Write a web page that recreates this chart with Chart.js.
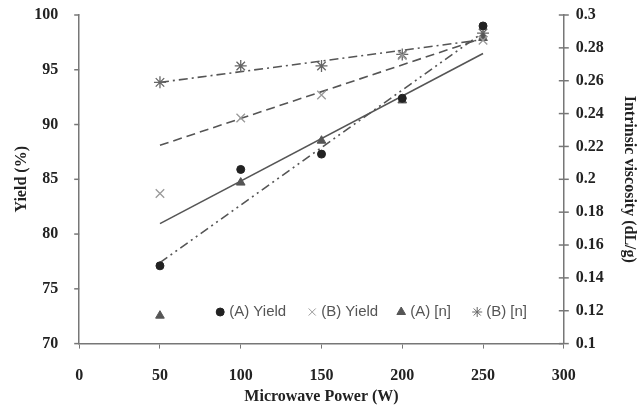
<!DOCTYPE html>
<html>
<head>
<meta charset="utf-8">
<script src="https://cdn.jsdelivr.net/npm/chart.js@4"></script>
<style>
  html, body { margin: 0; padding: 0; background: #fff; }
  #wrap { width: 638px; height: 411px; }
</style>
</head>
<body>
<div id="wrap"><canvas id="mwChart"></canvas></div>
<script>
const power = [50, 100, 150, 200, 250];
const yieldA = [77.1, 85.9, 87.3, 92.4, 99.0];
const yieldB = [83.7, 90.6, 92.7, 96.3, 97.7];
const viscA = [0.117, 0.198, 0.2235, 0.248, 0.286];
const viscB = [0.259, 0.269, 0.269, 0.276, 0.289];

// trend lines, end points
const trendX = [50, 250];
const trendYieldA = [77.4, 98.4];
const trendYieldB = [88.1, 97.9];
const trendViscA = [0.173, 0.2766];
const trendViscB = [0.259, 0.285];

const legendNames = ["(A) Yield", "(B) Yield", "(A) [n]", "(B) [n]"];

const pts = (xs, ys) => xs.map((x, i) => ({ x: x, y: ys[i] }));
const serif = "'Liberation Serif', 'Times New Roman', serif";
const tickFont = { family: serif, size: 16, weight: 'bold' };

function trend(data, axis, dash) {
    return {
        data: data, yAxisID: axis, showLine: true,
        borderColor: '#555', borderWidth: 1.6, borderDash: dash,
        pointRadius: 0, fill: false, order: 2
    };
}

const marks = [
    { data: pts(power, yieldA), yAxisID: 'y', pointStyle: 'circle', pointRadius: 4,
      backgroundColor: '#222', borderColor: '#222' },
    { data: pts(power, yieldB), yAxisID: 'y', pointStyle: 'crossRot', pointRadius: 6,
      backgroundColor: '#999', borderColor: '#999', borderWidth: 1.3 },
    { data: pts(power, viscA), yAxisID: 'y1', pointStyle: 'triangle', pointRadius: 5,
      backgroundColor: '#555', borderColor: '#555' },
    { data: pts(power, viscB), yAxisID: 'y1', pointStyle: 'star', pointRadius: 6,
      backgroundColor: '#666', borderColor: '#666', borderWidth: 1.3 }
];

const legendPlugin = {
    id: 'insideLegend',
    afterDraw(chart) {
        const ctx = chart.ctx;
        const a = chart.chartArea;
        const y = a.top + 297;
        const offs = [141, 233, 322, 398];
        ctx.save();
        ctx.font = "15px 'Liberation Sans', Arial, sans-serif";
        ctx.textBaseline = 'middle';
        marks.forEach((m, i) => {
            const x = a.left + offs[i];
            ctx.fillStyle = m.backgroundColor;
            ctx.strokeStyle = m.borderColor;
            Chart.helpers.drawPoint(ctx, {
                pointStyle: m.pointStyle, radius: i === 0 ? 4 : 5, rotation: 0,
                borderWidth: m.borderWidth || 1
            }, x, y);
            ctx.fillStyle = '#555';
            ctx.fillText(legendNames[i], x + 9, y);
        });
        ctx.restore();
    }
};

// tick marks of the two value axes (right one crosses the axis line)
const yTickMarks = {
    id: 'yTickMarks',
    afterDraw(chart) {
        const ctx = chart.ctx;
        ctx.save();
        ctx.strokeStyle = '#777';
        ctx.lineWidth = 1.5;
        const l = chart.scales.y;
        l.ticks.forEach(t => {
            const py = l.getPixelForValue(t.value);
            ctx.beginPath();
            ctx.moveTo(l.right - 5, py);
            ctx.lineTo(l.right, py);
            ctx.stroke();
        });
        const r = chart.scales.y1;
        r.ticks.forEach(t => {
            const py = r.getPixelForValue(t.value);
            ctx.beginPath();
            ctx.moveTo(r.left - 5, py);
            ctx.lineTo(r.left + 5, py);
            ctx.stroke();
        });
        ctx.restore();
    }
};

new Chart(document.getElementById("mwChart"), {
    type: 'scatter',
    data: {
        datasets: [
            ...marks.map(m => Object.assign({ order: 1 }, m)),
            trend(pts(trendX, trendYieldA), 'y', [9, 4, 2, 4, 2, 4]),
            trend(pts(trendX, trendYieldB), 'y', [9, 5]),
            trend(pts(trendX, trendViscA), 'y1', []),
            trend(pts(trendX, trendViscB), 'y1', [9, 4, 2, 4])
        ]
    },
    options: {
        responsive: true,
        maintainAspectRatio: false,
        animation: false,
        layout: { padding: { left: 8, right: 0, top: 15, bottom: 1 } },
        plugins: {
            legend: { display: false },
            tooltip: { enabled: false }
        },
        scales: {
            x: {
                type: 'linear', min: 0, max: 300,
                ticks: { stepSize: 50, color: '#222', padding: 18, font: tickFont },
                grid: { drawOnChartArea: false, tickLength: 5, color: '#777' },
                border: { color: '#777', width: 1.5 },
                title: { display: true, text: 'Microwave Power (W)', color: '#222',
                         font: tickFont, padding: { top: -17, bottom: 4 } }
            },
            y: {
                position: 'left', min: 70, max: 100,
                ticks: { stepSize: 5, color: '#222', padding: 1, font: tickFont },
                grid: { drawOnChartArea: false, tickLength: 20, color: 'rgba(0,0,0,0)' },
                border: { color: '#777', width: 1.5 },
                title: { display: true, text: 'Yield (%)', color: '#222',
                         font: tickFont, padding: { top: 4, bottom: 2 } }
            },
            y1: {
                position: 'right', min: 0.1, max: 0.3,
                ticks: { stepSize: 0.02, color: '#222', padding: 0, font: tickFont,
                         callback: v => String(Number(v.toFixed(2))) },
                grid: { drawOnChartArea: false, tickLength: 12, color: 'rgba(0,0,0,0)' },
                border: { color: '#777', width: 1.5 },
                title: { display: true, text: 'Intrinsic viscosity (dL/g)', color: '#222',
                         font: tickFont, padding: { top: -1, bottom: 16 } }
            }
        }
    },
    plugins: [legendPlugin, yTickMarks]
});
</script>
</body>
</html>
